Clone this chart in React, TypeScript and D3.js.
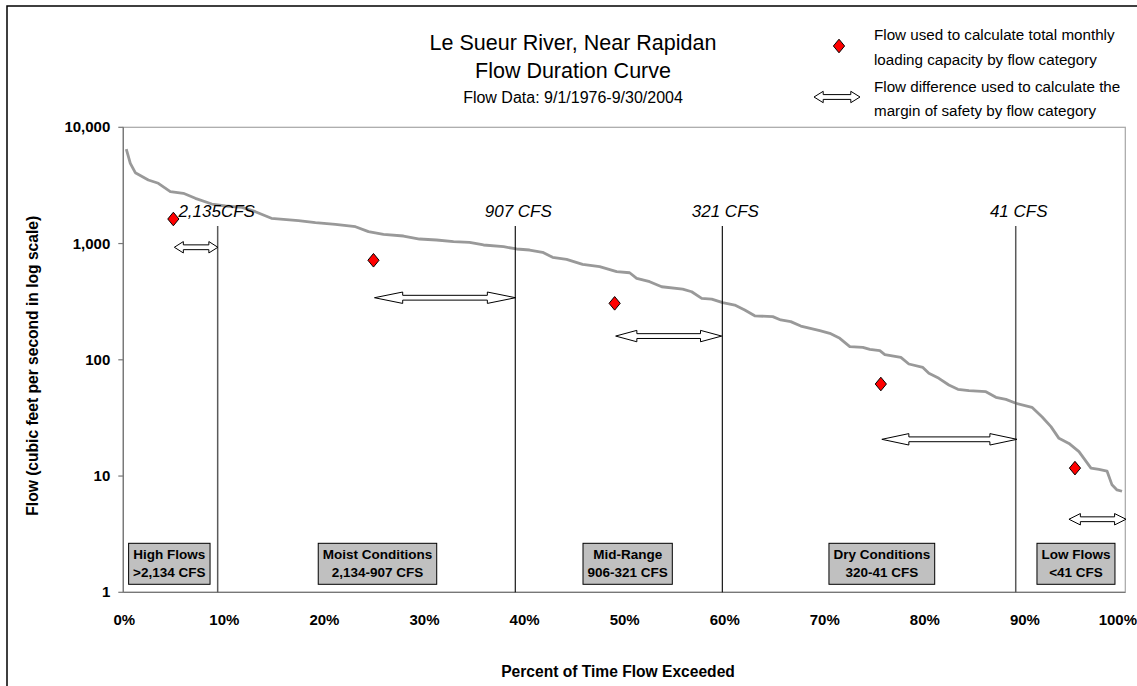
import React, { useEffect, useRef } from 'react';
import * as d3 from 'd3';

const W = 1137;
const H = 686;
const FONT = "Arial, 'Liberation Sans', Helvetica, sans-serif";

// Flow duration curve (percent of time exceeded, flow in cfs)
const curvePct = [0.3, 0.7, 1.2, 2.5, 3.5, 4.7, 6.0, 7.2, 8.85, 10.2, 11.85, 13.2, 14.8, 17.5, 19.2, 21.2, 23.2, 24.5, 26.0, 28.0, 29.6, 31.3, 33.0, 34.6, 36.0, 38.0, 39.3, 40.6, 41.9, 42.9, 44.3, 45.9, 47.6, 49.3, 50.6, 51.3, 52.6, 53.8, 55.9, 56.8, 57.8, 58.8, 59.9, 61.1, 62.1, 63.1, 64.9, 65.7, 66.7, 67.7, 69.6, 70.6, 71.6, 72.6, 73.9, 74.6, 75.6, 76.1, 77.7, 78.5, 79.9, 80.5, 81.5, 82.5, 83.4, 84.5, 86.2, 87.2, 88.2, 89.2, 90.8, 91.8, 92.7, 93.5, 94.5, 95.5, 96.7, 97.5, 98.3, 98.8, 99.3, 99.8];
const curveFlow = [6505, 4898, 4070, 3521, 3299, 2793, 2706, 2450, 2188, 2104, 2050, 1879, 1649, 1573, 1511, 1464, 1396, 1265, 1201, 1161, 1094, 1073, 1037, 1025, 972, 940, 898, 880, 841, 761, 732, 663, 632, 573, 561, 502, 470, 425, 406, 385, 338, 333, 310, 296, 268, 239, 235, 220, 213, 195, 178, 169, 153, 130, 128, 123, 120, 111, 105, 92, 86, 76.5, 69.3, 60.7, 55.7, 54.2, 53.2, 47.6, 45.7, 42.3, 39.0, 32.4, 26.6, 21.1, 19.1, 16.2, 11.7, 11.4, 11.05, 8.4, 7.6, 7.4];

// Loading capacity flows (diamonds)
const loadPct = [5.0, 25.0, 49.1, 75.7, 95.1];
const loadFlow = [1626, 718, 306, 61.9, 11.7];

// Margin of safety arrows
const mosStartPct = [5.1, 25.1, 49.2, 75.8, 94.5];
const mosEndPct = [9.45, 39.2, 59.8, 89.3, 100.2];
const mosFlow = [929, 342, 160, 20.7, 4.25];

// Flow category boundaries
const boundaryPct = [9.43, 39.17, 59.86, 89.18];
const boundaryLabels = ['2,135CFS', '907 CFS', '321 CFS', '41 CFS'];
const boundaryColors = ['#5a5a5a', '#000000', '#000000', '#5a5a5a'];
const boundaryTopFlow = 1415;

// Category boxes
const categoryLine1 = ['High Flows', 'Moist Conditions', 'Mid-Range', 'Dry Conditions', 'Low Flows'];
const categoryLine2 = ['>2,134 CFS', '2,134-907 CFS', '906-321 CFS', '320-41 CFS', '<41 CFS'];
const categoryCenterPct = [4.6, 25.4, 50.4, 75.8, 95.2];

// Axes
const xTicks = [0, 10, 20, 30, 40, 50, 60, 70, 80, 90, 100];
const yTicks = [1, 10, 100, 1000, 10000];

const titleLines = ['Le Sueur River, Near Rapidan', 'Flow Duration Curve'];
const subtitle = 'Flow Data: 9/1/1976-9/30/2004';
const legendDiamondText = ['Flow used to calculate total monthly', 'loading capacity by flow category'];
const legendArrowText = ['Flow difference used to calculate the', 'margin of safety by flow category'];

const plot = { left: 123.3, right: 1124, top: 127.3, bottom: 592.3 };

function arrowPath(x1: number, x2: number, y: number) {
  const h = Math.max(9, Math.min(29, (x2 - x1) * 0.2));
  const hh = 5.7;
  const sh = 2.4;
  return `M${x1},${y} L${x1 + h},${y - hh} L${x1 + h},${y - sh} L${x2 - h},${y - sh} L${x2 - h},${y - hh} L${x2},${y} L${x2 - h},${y + hh} L${x2 - h},${y + sh} L${x1 + h},${y + sh} L${x1 + h},${y + hh} Z`;
}

function diamondPath(cx: number, cy: number) {
  const a = 5.6, b = 6.8;
  return `M${cx},${cy - b} L${cx + a},${cy} L${cx},${cy + b} L${cx - a},${cy} Z`;
}

export default function App() {
  const ref = useRef<SVGSVGElement | null>(null);

  useEffect(() => {
    const svg = d3.select(ref.current);
    svg.selectAll('*').remove();

    const x = d3.scaleLinear().domain([0, 100]).range([plot.left, plot.right]);
    const y = d3.scaleLog().domain([1, 10000]).range([plot.bottom, plot.top]);

    svg.append('rect').attr('x', 0).attr('y', 0).attr('width', W).attr('height', H).attr('fill', '#fff');
    // outer chart border (extends past the picture)
    svg.append('rect').attr('x', 7).attr('y', 6).attr('width', W + 20).attr('height', H + 20)
      .attr('fill', 'none').attr('stroke', '#000').attr('stroke-width', 1.5);

    // plot area border
    svg.append('rect').attr('x', plot.left).attr('y', plot.top)
      .attr('width', x(100) - plot.left + 1.3).attr('height', plot.bottom - plot.top)
      .attr('fill', 'none').attr('stroke', '#a6a6a6').attr('stroke-width', 1.2);

    // Title
    const tcx = 573;
    svg.append('text').attr('x', tcx).attr('y', 50).attr('text-anchor', 'middle')
      .attr('font-family', FONT).attr('font-size', 21.5).text(titleLines[0]);
    svg.append('text').attr('x', tcx).attr('y', 78).attr('text-anchor', 'middle')
      .attr('font-family', FONT).attr('font-size', 21.5).text(titleLines[1]);
    svg.append('text').attr('x', tcx).attr('y', 103).attr('text-anchor', 'middle')
      .attr('font-family', FONT).attr('font-size', 16).text(subtitle);

    // Legend
    const lx = 874;
    svg.append('path').attr('d', diamondPath(839, 46)).attr('fill', '#ff0000').attr('stroke', '#000').attr('stroke-width', 1);
    legendDiamondText.forEach((t, i) => {
      svg.append('text').attr('x', lx).attr('y', 40 + i * 25).attr('font-family', FONT)
        .attr('font-size', 15.2).text(t);
    });
    svg.append('path').attr('d', arrowPath(814, 860, 97)).attr('fill', '#fff').attr('stroke', '#000').attr('stroke-width', 1);
    legendArrowText.forEach((t, i) => {
      svg.append('text').attr('x', lx).attr('y', 92 + i * 24).attr('font-family', FONT)
        .attr('font-size', 15.2).text(t);
    });

    // Axes lines
    svg.append('line').attr('x1', plot.left).attr('x2', plot.left).attr('y1', plot.top).attr('y2', plot.bottom)
      .attr('stroke', '#777').attr('stroke-width', 1.3);
    svg.append('line').attr('x1', plot.left).attr('x2', x(100) + 1.3).attr('y1', plot.bottom).attr('y2', plot.bottom)
      .attr('stroke', '#777').attr('stroke-width', 1.3);

    // Y ticks
    const fmt = d3.format(',');
    yTicks.forEach((v) => {
      svg.append('line').attr('x1', plot.left - 5).attr('x2', plot.left).attr('y1', y(v)).attr('y2', y(v))
        .attr('stroke', '#777').attr('stroke-width', 1.2);
      svg.append('text').attr('x', plot.left - 13).attr('y', y(v) + 5).attr('text-anchor', 'end')
        .attr('font-family', FONT).attr('font-weight', 'bold').attr('font-size', 15).text(fmt(v));
    });
    // X tick labels (last one kept inside the picture)
    xTicks.forEach((v) => {
      const tx = svg.append('text').attr('x', x(v) + 1).attr('y', plot.bottom + 33).attr('text-anchor', 'middle')
        .attr('font-family', FONT).attr('font-weight', 'bold').attr('font-size', 15).text(`${v}%`);
      const len = (tx.node() as SVGTextElement).getComputedTextLength();
      if (x(v) + 1 + len / 2 > W) tx.attr('x', W - len / 2);
    });

    // Axis titles
    svg.append('text').attr('transform', `translate(38, ${(plot.top + plot.bottom) / 2 + 6}) rotate(-90)`)
      .attr('text-anchor', 'middle').attr('font-family', FONT).attr('font-weight', 'bold').attr('font-size', 15.6)
      .text('Flow (cubic feet per second in log scale)');
    svg.append('text').attr('x', 618).attr('y', 677).attr('text-anchor', 'middle')
      .attr('font-family', FONT).attr('font-weight', 'bold').attr('font-size', 15.6)
      .text('Percent of Time Flow Exceeded');

    // Flow duration curve
    const line = d3.line<number>().x((_, i) => x(curvePct[i])).y((d) => y(d));
    svg.append('path').attr('d', line(curveFlow) || '').attr('fill', 'none')
      .attr('stroke', '#999999').attr('stroke-width', 2.8).attr('stroke-linejoin', 'round');

    // Boundaries
    boundaryPct.forEach((p, i) => {
      svg.append('line').attr('x1', x(p)).attr('x2', x(p)).attr('y1', y(boundaryTopFlow)).attr('y2', plot.bottom)
        .attr('stroke', boundaryColors[i]).attr('stroke-width', i === 0 || i === 3 ? 1.5 : 1.1);
      svg.append('text').attr('x', x(p) + (i === 0 ? -1 : 3)).attr('y', y(boundaryTopFlow) - 9)
        .attr('text-anchor', 'middle').attr('font-family', FONT).attr('font-style', 'italic')
        .attr('font-size', 17).text(boundaryLabels[i]);
    });

    // Category boxes
    categoryLine1.forEach((t, i) => {
      const g = svg.append('g');
      const cx = x(categoryCenterPct[i]);
      const r = g.append('rect');
      const t1 = g.append('text').attr('x', cx).attr('y', plot.bottom - 33).attr('text-anchor', 'middle')
        .attr('font-family', FONT).attr('font-weight', 'bold').attr('font-size', 13.5).text(t);
      const t2 = g.append('text').attr('x', cx).attr('y', plot.bottom - 15).attr('text-anchor', 'middle')
        .attr('font-family', FONT).attr('font-weight', 'bold').attr('font-size', 13.5).text(categoryLine2[i]);
      const w = Math.max((t1.node() as SVGTextElement).getComputedTextLength(), (t2.node() as SVGTextElement).getComputedTextLength()) + 9;
      r.attr('x', cx - w / 2).attr('y', plot.bottom - 49).attr('width', w).attr('height', 41)
        .attr('fill', '#c0c0c0').attr('stroke', '#000').attr('stroke-width', 1);
    });

    // Margin of safety arrows
    mosFlow.forEach((f, i) => {
      svg.append('path').attr('d', arrowPath(x(mosStartPct[i]), x(mosEndPct[i]), y(f)))
        .attr('fill', '#fff').attr('stroke', '#000').attr('stroke-width', 1);
    });

    // Diamonds
    loadFlow.forEach((f, i) => {
      svg.append('path').attr('d', diamondPath(x(loadPct[i]), y(f)))
        .attr('fill', '#ff0000').attr('stroke', '#000').attr('stroke-width', 1);
    });
  }, []);

  return (
    <svg ref={ref} width={W} height={H} style={{ position: 'absolute', left: 0, top: 0, background: '#fff' }} />
  );
}
